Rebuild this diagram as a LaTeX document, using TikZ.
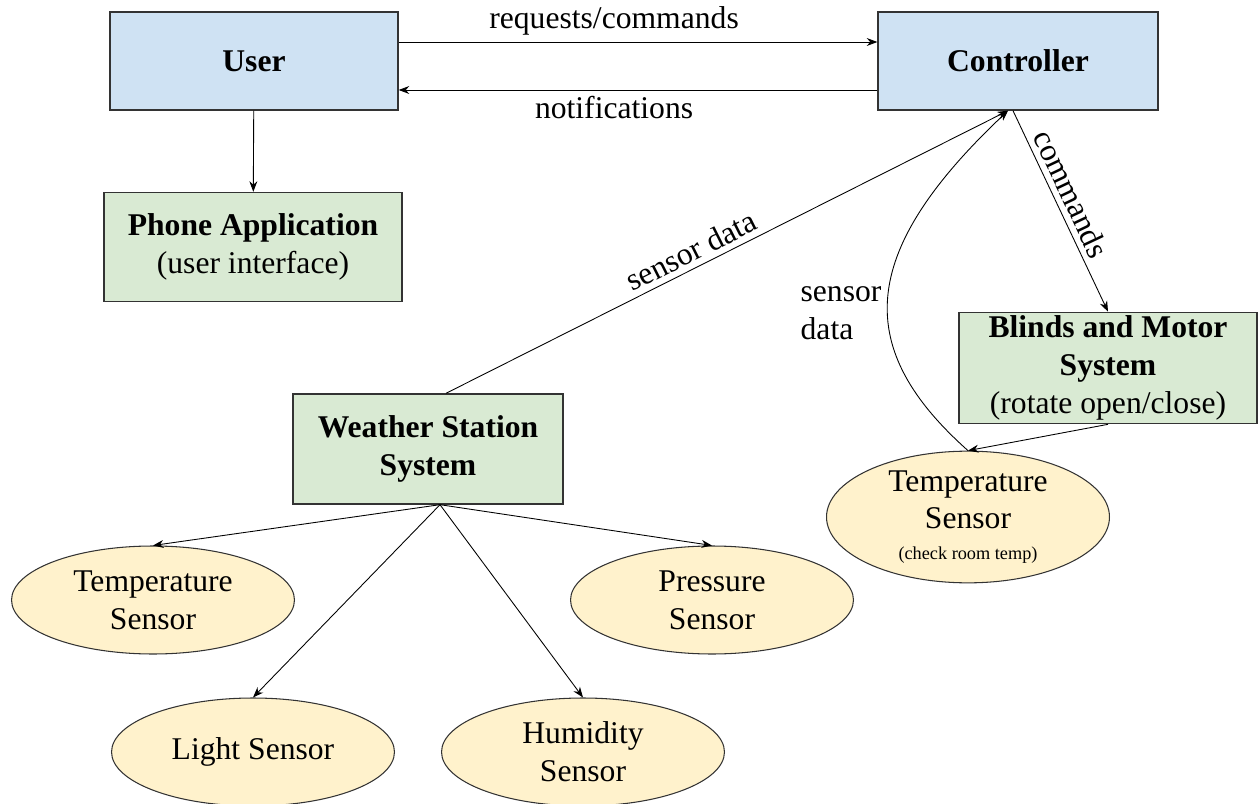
\documentclass[tikz,border=0pt]{standalone}
\usepackage{fontspec}
\setmainfont{Liberation Serif}
\usetikzlibrary{shapes.geometric,arrows.meta}
\definecolor{ctrlblue}{HTML}{CFE2F3}
\definecolor{sysgreen}{HTML}{D9EAD3}
\definecolor{sensyellow}{HTML}{FFF2CC}

\begin{document}
\begin{tikzpicture}[x=0.02cm, y=-0.02cm,
    font=\fontsize{18}{21.5}\selectfont,
    >={Stealth[length=6pt,width=4.5pt]},
    block/.style={draw=black!80, line width=0.8pt, align=center, inner sep=2pt},
    topbox/.style={block, fill=ctrlblue, minimum height=1.96cm},
    subbox/.style={block, fill=sysgreen, minimum height=2.2cm},
    sensor/.style={ellipse, draw=black!80, line width=0.6pt, fill=sensyellow, align=center,
        minimum width=5.66cm, minimum height=2.16cm, inner sep=0pt},
    link/.style={->, line width=0.5pt}]
        \useasboundingbox (0,0) rectangle (1258,804);

        % Top level
        \node[topbox, minimum width=5.76cm] (User) at (254,61) {\textbf{User}};
        \node[topbox, minimum width=5.6cm] (Ctrl) at (1018,61) {\textbf{Controller}};

        % Subsystems
        \node[subbox, minimum width=5.96cm, minimum height=2.18cm] (Phone) at (253,247) {\textbf{Phone Application}\\(user interface)};
        \node[subbox, minimum width=5.4cm] (WS) at (428,449) {\textbf{Weather Station}\\\textbf{System}};
        \node[subbox, minimum width=5.96cm] (Blinds) at (1108,368) {\textbf{Blinds and Motor}\\\textbf{System}\\(rotate open/close)};

        % Sensors
        \node[sensor] (TL) at (153,600) {Temperature\\Sensor};
        \node[sensor] (PS) at (712,600) {Pressure\\Sensor};
        \node[sensor] (LS) at (253,752) {Light Sensor};
        \node[sensor] (HS) at (583,752) {Humidity\\Sensor};
        \node[sensor] (TR) at (968,517) {Temperature\\Sensor\\[-4pt]{\fontsize{10.4}{12}\selectfont (check room temp)}};

        \draw[link] ([yshift=0.38cm]User.east) -- node[pos=0.45, above] {requests/commands} ([yshift=0.38cm]Ctrl.west);
        \draw[link] ([yshift=-0.58cm]Ctrl.west) -- node[pos=0.55, below] {notifications} ([yshift=-0.58cm]User.east);
        \draw[link] (User) -- (Phone);

        % Controller links
        \draw[link] ([xshift=0.36cm]WS.north) -- node[pos=0.45, above, sloped] {sensor data} ([xshift=-0.2cm]Ctrl.south);
        \draw[link] ([xshift=-0.1cm]Ctrl.south) -- node[pos=0.45, above, sloped] {commands} (Blinds.north);
        \draw[link] (Blinds.south) -- (TR.north);
        \draw[link] (TR.north) .. controls (855,350) and (855,255) .. node[pos=0.45, left, align=left] {sensor\\data} ([xshift=-0.2cm]Ctrl.south);

        % Weather station sensors
        \draw[link] ([xshift=0.24cm]WS.south) -- (TL.north);
        \draw[link] ([xshift=0.24cm]WS.south) -- (LS.north);
        \draw[link] ([xshift=0.24cm]WS.south) -- (HS.north);
        \draw[link] ([xshift=0.24cm]WS.south) -- (PS.north);

\end{tikzpicture}
\end{document}
